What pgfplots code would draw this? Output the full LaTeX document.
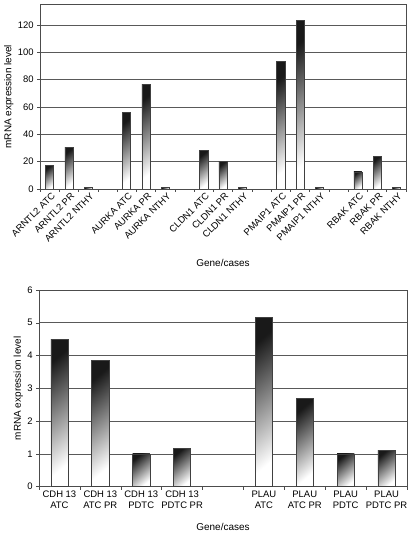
\documentclass[border=0pt]{standalone}
\usepackage{fontspec}
\setmainfont{Liberation Sans}
\usepackage{pgfplots}
\pgfplotsset{compat=1.18}
\newcommand{\onebar}[2]{\addplot[mybar] coordinates {(#1,#2)};}
\begin{document}
\fontsize{9.5}{11}\selectfont
\begin{tikzpicture}
\path[use as bounding box] (0,0) rectangle (419bp,536bp);
\pgfplotsset{
  common/.style={
    scale only axis,
    /pgf/number format/assume math mode=true,
    ymin=0,
    tick pos=left, tick align=outside,
    major tick length=3pt,
    axis line style={draw=black!70, line width=0.6pt},
    ymajorgrids,
    major grid style={draw=black!65, line width=0.6pt},
    tick style={draw=black!70, line width=0.5pt},
    ylabel={mRNA expression level},
    xlabel={Gene/cases},
    ticklabel style={font=\fontsize{9.5}{11}\selectfont},
    label style={font=\fontsize{10}{12}\selectfont},
    ylabel style={yshift=-2pt},
  },
  mybar/.style={ybar, bar shift=0pt, bar width=0.42, draw=black!75, line width=0.5pt,
    top color=black!90, bottom color=white, shading angle=40},
}
% Panel A
\begin{axis}[common,
  at={(40bp,347bp)}, anchor=south west,
  width=366bp, height=184.7bp,
  xmin=-0.5, xmax=18.5, ymax=135,
  ytick={0,20,...,120},
  xtick={-0.5,0.5,...,18.5}, xticklabels={},
  extra x ticks={0,1,2,4,5,6,8,9,10,12,13,14,16,17,18},
  extra x tick labels={ARNTL2 ATC,ARNTL2 PR,ARNTL2 NTHY,AURKA ATC,AURKA PR,AURKA NTHY,CLDN1 ATC,CLDN1 PR,CLDN1 NTHY,PMAIP1 ATC,PMAIP1 PR,PMAIP1 NTHY,RBAK ATC,RBAK PR,RBAK NTHY},
  extra x tick style={major tick length=0pt, grid=none, xticklabel style={rotate=45, anchor=north east, inner sep=1pt, yshift=-2pt}},
  xlabel style={at={(axis description cs:0.5,-0.40)}, anchor=center},
]
\onebar{0}{17.3}
\onebar{1}{30.5}
\onebar{2}{1}
\onebar{4}{56}
\onebar{5}{76.2}
\onebar{6}{1}
\onebar{8}{28.3}
\onebar{9}{20}
\onebar{10}{1}
\onebar{12}{93.3}
\onebar{13}{123.5}
\onebar{14}{1}
\onebar{16}{12.5}
\onebar{17}{24}
\onebar{18}{1}
\node[font=\bfseries\fontsize{10}{12}\selectfont] at (rel axis cs:-0.087,0.964) {A};
\end{axis}
% Panel B
\begin{axis}[common,
  at={(39bp,49.3bp)}, anchor=south west,
  width=368bp, height=196.7bp,
  xmin=-0.5, xmax=8.5, ymax=6,
  ytick={0,1,...,6},
  xtick={-0.5,0.5,...,8.5}, xticklabels={},
  extra x ticks={0,1,2,3,5,6,7,8},
  extra x tick labels={CDH 13\\ATC,CDH 13\\ATC PR,CDH 13\\PDTC,CDH 13\\PDTC PR,PLAU\\ATC,PLAU\\ATC PR,PLAU\\PDTC,PLAU\\PDTC PR},
  extra x tick style={major tick length=0pt, grid=none, xticklabel style={align=center, anchor=north, inner sep=2pt, yshift=-2pt}},
  xlabel style={at={(axis description cs:0.5,-0.203)}, anchor=center},
]
\onebar{0}{4.5}
\onebar{1}{3.85}
\onebar{2}{1.0}
\onebar{3}{1.16}
\onebar{5}{5.17}
\onebar{6}{2.69}
\onebar{7}{1.0}
\onebar{8}{1.11}
\node[font=\bfseries\fontsize{10}{12}\selectfont] at (rel axis cs:-0.084,1.01) {B};
\end{axis}
\end{tikzpicture}
\end{document}
